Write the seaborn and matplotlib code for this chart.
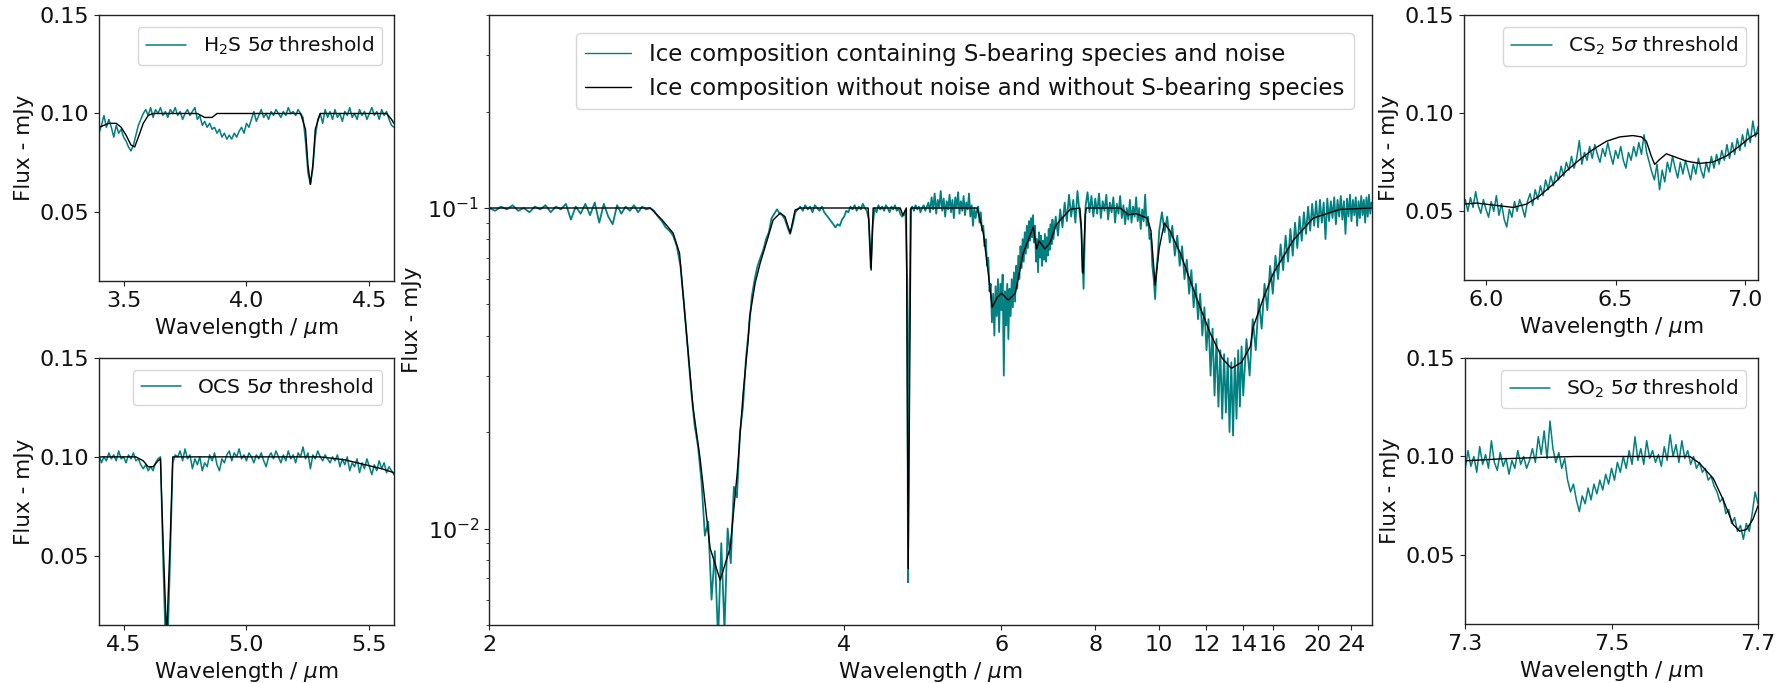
import numpy as np
import seaborn as sns
import matplotlib.pyplot as plt
from matplotlib.ticker import NullLocator

TEAL = "#008080"

# ---- main panel: model without S-bearing species (black) ----
main_model_wl = [2.00, 2.66, 2.72, 2.78, 2.815, 2.857, 2.891, 2.932, 2.991, 3.053,
                 3.116, 3.162, 3.201, 3.235, 3.245, 3.283, 3.318, 3.368, 3.411, 3.464,
                 3.50, 3.54, 3.579, 3.62, 4.234, 4.264, 4.285, 4.58, 4.61, 4.65,
                 4.672, 4.705, 5.605, 5.70, 5.78, 5.843, 5.93, 6.00, 6.118, 6.244,
                 6.39, 6.585, 6.65, 6.70, 6.82, 6.93, 7.05, 7.15, 7.38, 7.61,
                 7.64, 7.67, 7.69, 7.71, 7.74, 7.77, 8.70, 8.95, 9.20, 9.57,
                 9.70, 9.85, 10.0, 10.19, 10.4, 10.82, 11.57, 12.18, 12.8, 13.3,
                 13.9, 14.45, 14.63, 15.3, 16.04, 17.65, 19.5, 22.5, 27.0]
main_model_flux = [0.100, 0.100, 0.092, 0.0835, 0.0723, 0.0387, 0.0239, 0.0165, 0.0087, 0.0069,
                   0.0087, 0.0149, 0.0264, 0.0387, 0.0457, 0.0583, 0.0673, 0.0794, 0.0917, 0.0965,
                   0.094, 0.0835, 0.0986, 0.100, 0.100, 0.064, 0.100, 0.100, 0.095, 0.100,
                   0.0075, 0.100, 0.100, 0.0835, 0.0626, 0.049, 0.0527, 0.0542, 0.0516, 0.0542,
                   0.0723, 0.0873, 0.0745, 0.079, 0.0745, 0.078, 0.0880, 0.0917, 0.099, 0.100,
                   0.089, 0.063, 0.0626, 0.075, 0.095, 0.100, 0.100, 0.0953, 0.096, 0.093,
                   0.085, 0.0575, 0.075, 0.0898, 0.085, 0.0723, 0.0516, 0.0407, 0.034, 0.0316,
                   0.033, 0.037, 0.0425, 0.052, 0.0626, 0.0794, 0.093, 0.099, 0.100]

# ---- main panel: ice with S-bearing species and noise (teal) ----
main_noisy_wl = [
    2.00, 2.02, 2.04, 2.06, 2.08, 2.10, 2.12, 2.14, 2.16, 2.18, 2.20, 2.22, 2.24, 2.26, 2.28,
    2.30, 2.32, 2.34, 2.36, 2.38, 2.40, 2.42, 2.44, 2.46, 2.48, 2.50, 2.52, 2.54, 2.56, 2.58,
    2.60, 2.62, 2.64, 2.66, 2.68, 2.70, 2.72, 2.74, 2.76, 2.78, 2.80, 2.82, 2.84, 2.86, 2.88,
    2.90, 2.92, 2.94, 2.96, 2.98, 3.00, 3.02, 3.04, 3.06, 3.08, 3.10, 3.12, 3.14, 3.16, 3.18,
    3.20, 3.22, 3.24, 3.26, 3.28, 3.30, 3.32, 3.34, 3.36, 3.38, 3.40, 3.42, 3.44, 3.46, 3.48,
    3.50, 3.52, 3.54, 3.56, 3.58, 3.60, 3.62, 3.64, 3.66, 3.68, 3.70, 3.72, 3.74, 3.76, 3.78,
    3.80, 3.82, 3.84, 3.86, 3.88, 3.90, 3.92, 3.94, 3.96, 3.98, 4.00, 4.02, 4.04, 4.06, 4.08,
    4.10, 4.12, 4.14, 4.16, 4.18, 4.20, 4.22, 4.24, 4.26, 4.28, 4.30, 4.32, 4.34, 4.36, 4.38,
    4.40, 4.42, 4.44, 4.46, 4.48, 4.50, 4.52, 4.54, 4.56, 4.58, 4.60, 4.62, 4.64, 4.66, 4.67,
    4.68, 4.70, 4.72, 4.74, 4.76, 4.78, 4.80, 4.82, 4.84, 4.86, 4.88, 4.90,
    4.92, 4.94, 4.96, 4.98, 5.00, 5.02, 5.04, 5.06, 5.08, 5.10, 5.12, 5.14, 5.16, 5.18, 5.20,
    5.22, 5.24, 5.26, 5.28, 5.30, 5.32, 5.34, 5.36, 5.38, 5.40, 5.42, 5.44, 5.46, 5.48, 5.50,
    5.52, 5.54, 5.56, 5.58, 5.60, 5.62, 5.64, 5.66, 5.68, 5.70, 5.72, 5.74, 5.76, 5.78, 5.80,
    5.82, 5.84, 5.86, 5.88, 5.90, 5.92, 5.94, 5.96, 5.98, 6.00, 6.02, 6.04, 6.06, 6.08, 6.10,
    6.12, 6.14, 6.16, 6.18, 6.20, 6.22, 6.24, 6.26, 6.28, 6.30, 6.32, 6.34, 6.36, 6.38, 6.40,
    6.42, 6.44, 6.46, 6.48, 6.50, 6.52, 6.54, 6.56, 6.58, 6.60, 6.62, 6.64, 6.66, 6.68, 6.70,
    6.72, 6.74, 6.76, 6.78, 6.80, 6.82, 6.84, 6.86, 6.88, 6.90, 6.92, 6.94, 6.96, 6.98, 7.00,
    7.05, 7.10, 7.15, 7.20, 7.25, 7.30, 7.35, 7.40, 7.45, 7.50, 7.55, 7.60, 7.65, 7.70, 7.75,
    7.80, 7.85, 7.90, 7.95, 8.00, 8.05, 8.10, 8.15, 8.20, 8.25, 8.30, 8.35, 8.40, 8.45, 8.50,
    8.55, 8.60, 8.65, 8.70, 8.75, 8.80, 8.85, 8.90, 8.95, 9.00, 9.05, 9.10, 9.15, 9.20, 9.25,
    9.30, 9.35, 9.40, 9.45, 9.50, 9.55, 9.60, 9.65, 9.70, 9.75, 9.80, 9.85, 9.90, 9.95, 10.00,
    10.1, 10.2, 10.3, 10.4, 10.5, 10.6, 10.7, 10.8, 10.9, 11.0, 11.1, 11.2, 11.3, 11.4, 11.5,
    11.6, 11.7, 11.8, 11.9, 12.0, 12.1, 12.2, 12.3, 12.4, 12.5, 12.6, 12.7, 12.8, 12.9, 13.0,
    13.1, 13.2, 13.3, 13.4, 13.5, 13.6, 13.7, 13.8, 13.9, 14.0,
    14.2, 14.4, 14.6, 14.8, 15.0, 15.2, 15.4, 15.6, 15.8, 16.0, 16.2, 16.4, 16.6, 16.8, 17.0,
    17.2, 17.4, 17.6, 17.8, 18.0, 18.2, 18.4, 18.6, 18.8, 19.0, 19.2, 19.4, 19.6, 19.8, 20.0,
    20.2, 20.4, 20.6, 20.8, 21.0, 21.2, 21.4, 21.6, 21.8, 22.0, 22.2, 22.4, 22.6, 22.8, 23.0,
    23.2, 23.4, 23.6, 23.8, 24.0, 24.2, 24.4, 24.6, 24.8, 25.0, 25.2, 25.4, 25.6, 25.8, 26.0,
    26.2, 26.4, 26.6, 26.8, 27.0]
main_noisy_flux = [
    0.100, 0.098, 0.101, 0.099, 0.102, 0.098, 0.100, 0.097, 0.101, 0.099, 0.102, 0.097, 0.101, 0.099, 0.103,
    0.092, 0.101, 0.096, 0.103, 0.095, 0.104, 0.090, 0.103, 0.094, 0.089, 0.102, 0.096, 0.101, 0.098, 0.102,
    0.097, 0.101, 0.099, 0.100, 0.098, 0.094, 0.091, 0.087, 0.085, 0.082, 0.076, 0.066, 0.050, 0.037, 0.027,
    0.021, 0.018, 0.014, 0.0095, 0.0105, 0.0060, 0.0085, 0.0045, 0.0090, 0.0048, 0.0100, 0.0078, 0.0135, 0.0125, 0.0200,
    0.0240, 0.0340, 0.0420, 0.0530, 0.0600, 0.0660, 0.0700, 0.0740, 0.0800, 0.0840, 0.0930, 0.0960, 0.0990, 0.0960, 0.0950,
    0.0920, 0.0870, 0.0830, 0.0890, 0.0970, 0.0990, 0.101, 0.098, 0.102, 0.099, 0.101, 0.097, 0.102, 0.100, 0.098,
    0.101, 0.097, 0.095, 0.093, 0.091, 0.089, 0.087, 0.089, 0.088, 0.092, 0.094, 0.098, 0.097, 0.101, 0.099,
    0.102, 0.098, 0.101, 0.099, 0.103, 0.100, 0.098, 0.092, 0.065, 0.088, 0.100, 0.097, 0.102, 0.099, 0.101,
    0.098, 0.102, 0.100, 0.097, 0.101, 0.099, 0.102, 0.098, 0.100, 0.096, 0.094, 0.095, 0.098, 0.060, 0.0068,
    0.030, 0.099, 0.101, 0.098, 0.102, 0.099, 0.101, 0.097, 0.100, 0.102, 0.098, 0.101,
    0.104, 0.097, 0.108, 0.099, 0.111, 0.096, 0.106, 0.100, 0.113, 0.098, 0.107, 0.094, 0.105, 0.099, 0.110,
    0.097, 0.106, 0.093, 0.108, 0.100, 0.112, 0.096, 0.105, 0.098, 0.109, 0.095, 0.104, 0.099, 0.111, 0.094,
    0.102, 0.088, 0.100, 0.093, 0.098, 0.101, 0.090, 0.097, 0.085, 0.088, 0.076, 0.080, 0.066, 0.070, 0.055,
    0.058, 0.044, 0.054, 0.040, 0.057, 0.046, 0.060, 0.041, 0.058, 0.048, 0.062, 0.030, 0.055, 0.043, 0.058,
    0.039, 0.056, 0.046, 0.060, 0.049, 0.063, 0.051, 0.066, 0.056, 0.071, 0.060, 0.076, 0.065, 0.080, 0.068,
    0.084, 0.072, 0.088, 0.075, 0.091, 0.079, 0.093, 0.081, 0.095, 0.078, 0.088, 0.068, 0.080, 0.063, 0.084,
    0.070, 0.082, 0.066, 0.079, 0.069, 0.083, 0.068, 0.081, 0.071, 0.086, 0.074, 0.089, 0.077, 0.092, 0.080,
    0.094, 0.082, 0.099, 0.087, 0.104, 0.091, 0.110, 0.094, 0.106, 0.090, 0.113, 0.097, 0.085, 0.056, 0.101,
    0.112, 0.097, 0.109, 0.094, 0.107, 0.096, 0.111, 0.093, 0.105, 0.098, 0.110, 0.092, 0.104, 0.097, 0.108,
    0.090, 0.103, 0.096, 0.109, 0.093, 0.102, 0.089, 0.100, 0.092, 0.106, 0.090, 0.101, 0.094, 0.108, 0.091,
    0.100, 0.086, 0.099, 0.091, 0.110, 0.088, 0.094, 0.080, 0.083, 0.066, 0.060, 0.052, 0.064, 0.072, 0.085,
    0.097, 0.084, 0.094, 0.078, 0.088, 0.071, 0.082, 0.066, 0.076, 0.060, 0.069, 0.054, 0.064, 0.049, 0.058,
    0.045, 0.054, 0.040, 0.049, 0.036, 0.045, 0.030, 0.042, 0.026, 0.039, 0.024, 0.036, 0.022, 0.035, 0.023,
    0.034, 0.020, 0.033, 0.0195, 0.034, 0.022, 0.036, 0.024, 0.037, 0.026,
    0.039, 0.030, 0.045, 0.036, 0.052, 0.042, 0.058, 0.048, 0.066, 0.054, 0.071, 0.060, 0.077, 0.064, 0.082,
    0.068, 0.086, 0.071, 0.090, 0.075, 0.094, 0.079, 0.097, 0.083, 0.101, 0.085, 0.103, 0.088, 0.105, 0.087,
    0.106, 0.090, 0.104, 0.080, 0.107, 0.091, 0.105, 0.093, 0.108, 0.089, 0.106, 0.094, 0.109, 0.092, 0.105,
    0.083, 0.107, 0.094, 0.110, 0.091, 0.106, 0.095, 0.108, 0.088, 0.105, 0.093, 0.109, 0.095, 0.106, 0.090,
    0.108, 0.094, 0.110, 0.096, 0.104]

main_ticks = [2, 4, 6, 8, 10, 12, 14, 16, 20, 24]

# ---- H2S panel ----
h2s_wl = [3.40, 3.41, 3.42, 3.43, 3.44, 3.45, 3.46, 3.47, 3.48, 3.49, 3.50, 3.51, 3.52, 3.53, 3.54,
          3.55, 3.56, 3.57, 3.58, 3.59, 3.60, 3.61, 3.62, 3.63, 3.64, 3.65, 3.66, 3.67, 3.68, 3.69,
          3.70, 3.71, 3.72, 3.73, 3.74, 3.75, 3.76, 3.77, 3.78, 3.79, 3.80, 3.81, 3.82, 3.83, 3.84,
          3.85, 3.86, 3.87, 3.88, 3.89, 3.90, 3.91, 3.92, 3.93, 3.94, 3.95, 3.96, 3.97, 3.98, 3.99,
          4.00, 4.01, 4.02, 4.03, 4.04, 4.05, 4.06, 4.07, 4.08, 4.09, 4.10, 4.11, 4.12, 4.13, 4.14,
          4.15, 4.16, 4.17, 4.18, 4.19, 4.20, 4.21, 4.22, 4.23, 4.24, 4.25, 4.26, 4.27, 4.28, 4.29,
          4.30, 4.31, 4.32, 4.33, 4.34, 4.35, 4.36, 4.37, 4.38, 4.39, 4.40, 4.41, 4.42, 4.43, 4.44,
          4.45, 4.46, 4.47, 4.48, 4.49, 4.50, 4.51, 4.52, 4.53, 4.54, 4.55, 4.56, 4.57, 4.58, 4.59, 4.60]
h2s_flux = [0.090, 0.094, 0.099, 0.093, 0.097, 0.093, 0.088, 0.094, 0.090, 0.092, 0.088, 0.086, 0.083, 0.081, 0.084,
            0.089, 0.094, 0.097, 0.100, 0.102, 0.099, 0.103, 0.098, 0.102, 0.100, 0.103, 0.099, 0.101, 0.098, 0.102,
            0.100, 0.103, 0.099, 0.101, 0.097, 0.100, 0.102, 0.099, 0.101, 0.103, 0.097, 0.099, 0.094, 0.096, 0.093,
            0.095, 0.092, 0.093, 0.090, 0.092, 0.088, 0.090, 0.087, 0.089, 0.087, 0.090, 0.088, 0.091, 0.093, 0.090,
            0.095, 0.093, 0.097, 0.101, 0.096, 0.099, 0.102, 0.098, 0.100, 0.097, 0.101, 0.099, 0.102, 0.100, 0.098,
            0.101, 0.099, 0.103, 0.100, 0.101, 0.099, 0.102, 0.100, 0.098, 0.086, 0.070, 0.064, 0.072, 0.088, 0.097,
            0.100, 0.095, 0.102, 0.098, 0.101, 0.097, 0.102, 0.098, 0.100, 0.096, 0.101, 0.099, 0.103, 0.098, 0.100,
            0.097, 0.102, 0.099, 0.101, 0.097, 0.100, 0.103, 0.099, 0.101, 0.097, 0.102, 0.099, 0.101, 0.097, 0.094, 0.093]
h2s_model_wl = [3.40, 3.44, 3.47, 3.49, 3.51, 3.53, 3.545, 3.56, 3.58, 3.60, 3.62, 3.80, 3.83, 3.86, 3.88,
                4.22, 4.24, 4.25, 4.26, 4.27, 4.28, 4.30, 4.57, 4.59, 4.60]
h2s_model_flux = [0.093, 0.095, 0.095, 0.093, 0.089, 0.084, 0.083, 0.088, 0.095, 0.099, 0.100, 0.100, 0.098, 0.098, 0.100,
                  0.100, 0.092, 0.074, 0.064, 0.074, 0.092, 0.100, 0.100, 0.097, 0.095]

# ---- OCS panel ----
ocs_wl = [4.40, 4.41, 4.42, 4.43, 4.44, 4.45, 4.46, 4.47, 4.48, 4.49, 4.50, 4.51, 4.52, 4.53, 4.54,
          4.55, 4.56, 4.57, 4.58, 4.59, 4.60, 4.61, 4.62, 4.63, 4.64, 4.65, 4.66, 4.67, 4.68, 4.69,
          4.70, 4.71, 4.72, 4.73, 4.74, 4.75, 4.76, 4.77, 4.78, 4.79, 4.80, 4.81, 4.82, 4.83, 4.84,
          4.85, 4.86, 4.87, 4.88, 4.89, 4.90, 4.91, 4.92, 4.93, 4.94, 4.95, 4.96, 4.97, 4.98, 4.99,
          5.00, 5.01, 5.02, 5.03, 5.04, 5.05, 5.06, 5.07, 5.08, 5.09, 5.10, 5.11, 5.12, 5.13, 5.14,
          5.15, 5.16, 5.17, 5.18, 5.19, 5.20, 5.21, 5.22, 5.23, 5.24, 5.25, 5.26, 5.27, 5.28, 5.29,
          5.30, 5.31, 5.32, 5.33, 5.34, 5.35, 5.36, 5.37, 5.38, 5.39, 5.40, 5.41, 5.42, 5.43, 5.44,
          5.45, 5.46, 5.47, 5.48, 5.49, 5.50, 5.51, 5.52, 5.53, 5.54, 5.55, 5.56, 5.57, 5.58, 5.59, 5.60]
ocs_flux = [0.101, 0.097, 0.100, 0.098, 0.102, 0.099, 0.101, 0.098, 0.103, 0.099, 0.100, 0.097, 0.101, 0.099, 0.102,
            0.098, 0.099, 0.096, 0.094, 0.096, 0.093, 0.095, 0.093, 0.097, 0.099, 0.100, 0.050, 0.008, 0.008, 0.050,
            0.097, 0.101, 0.100, 0.103, 0.098, 0.104, 0.099, 0.101, 0.094, 0.099, 0.096, 0.100, 0.093, 0.097, 0.095,
            0.101, 0.098, 0.102, 0.096, 0.093, 0.099, 0.097, 0.101, 0.103, 0.098, 0.102, 0.100, 0.104, 0.099, 0.101,
            0.098, 0.102, 0.100, 0.097, 0.101, 0.099, 0.102, 0.098, 0.095, 0.100, 0.102, 0.099, 0.103, 0.100, 0.097,
            0.101, 0.098, 0.103, 0.099, 0.101, 0.097, 0.102, 0.100, 0.105, 0.099, 0.102, 0.094, 0.101, 0.099, 0.103,
            0.100, 0.098, 0.101, 0.099, 0.097, 0.100, 0.098, 0.101, 0.095, 0.099, 0.096, 0.100, 0.093, 0.097, 0.095,
            0.099, 0.092, 0.097, 0.094, 0.099, 0.095, 0.091, 0.096, 0.093, 0.098, 0.094, 0.097, 0.092, 0.095, 0.093, 0.091]
ocs_model_wl = [4.40, 4.55, 4.58, 4.60, 4.62, 4.64, 4.65, 4.66, 4.675, 4.69, 4.70,
                5.30, 5.40, 5.45, 5.50, 5.55, 5.60]
ocs_model_flux = [0.100, 0.100, 0.098, 0.095, 0.095, 0.098, 0.099, 0.060, 0.008, 0.060, 0.100,
                  0.100, 0.0985, 0.097, 0.0955, 0.094, 0.092]

# ---- CS2 panel ----
cs2_wl = [5.92, 5.93, 5.94, 5.95, 5.96, 5.97, 5.98, 5.99, 6.00, 6.01, 6.02, 6.03, 6.04, 6.05, 6.06,
          6.07, 6.08, 6.09, 6.10, 6.11, 6.12, 6.13, 6.14, 6.15, 6.16, 6.17, 6.18, 6.19, 6.20, 6.21,
          6.22, 6.23, 6.24, 6.25, 6.26, 6.27, 6.28, 6.29, 6.30, 6.31, 6.32, 6.33, 6.34, 6.35, 6.36,
          6.37, 6.38, 6.39, 6.40, 6.41, 6.42, 6.43, 6.44, 6.45, 6.46, 6.47, 6.48, 6.49, 6.50, 6.51,
          6.52, 6.53, 6.54, 6.55, 6.56, 6.57, 6.58, 6.59, 6.60, 6.61, 6.62, 6.63, 6.64, 6.65, 6.66,
          6.67, 6.68, 6.69, 6.70, 6.71, 6.72, 6.73, 6.74, 6.75, 6.76, 6.77, 6.78, 6.79, 6.80, 6.81,
          6.82, 6.83, 6.84, 6.85, 6.86, 6.87, 6.88, 6.89, 6.90, 6.91, 6.92, 6.93, 6.94, 6.95, 6.96,
          6.97, 6.98, 6.99, 7.00, 7.01, 7.02, 7.03, 7.04, 7.05]
cs2_flux = [0.056, 0.050, 0.057, 0.052, 0.060, 0.053, 0.049, 0.056, 0.051, 0.047, 0.055, 0.050, 0.058, 0.048, 0.054,
            0.046, 0.042, 0.051, 0.047, 0.055, 0.050, 0.056, 0.052, 0.047, 0.055, 0.059, 0.053, 0.061, 0.056, 0.063,
            0.058, 0.066, 0.061, 0.068, 0.063, 0.070, 0.066, 0.073, 0.068, 0.075, 0.071, 0.078, 0.072, 0.077, 0.086,
            0.074, 0.080, 0.076, 0.083, 0.077, 0.084, 0.079, 0.075, 0.082, 0.078, 0.085, 0.079, 0.074, 0.081, 0.077,
            0.083, 0.076, 0.072, 0.080, 0.076, 0.083, 0.078, 0.085, 0.079, 0.089, 0.080, 0.075, 0.070, 0.066, 0.074,
            0.061, 0.071, 0.065, 0.075, 0.070, 0.078, 0.072, 0.067, 0.075, 0.069, 0.076, 0.071, 0.066, 0.074, 0.069,
            0.077, 0.071, 0.067, 0.075, 0.070, 0.078, 0.072, 0.079, 0.074, 0.081, 0.076, 0.084, 0.077, 0.085, 0.079,
            0.087, 0.081, 0.089, 0.083, 0.092, 0.085, 0.096, 0.088, 0.093]
cs2_model_wl = [5.915, 5.964, 6.015, 6.105, 6.157, 6.208, 6.259, 6.31, 6.362, 6.413, 6.465, 6.516, 6.567,
                6.60, 6.619, 6.638, 6.651, 6.67, 6.696, 6.721, 6.773, 6.824, 6.876, 6.927, 6.978, 7.017, 7.05]
cs2_model_flux = [0.0537, 0.0542, 0.0534, 0.052, 0.0537, 0.058, 0.0638, 0.0705, 0.0764, 0.0815, 0.0857, 0.0879, 0.0886,
                  0.0879, 0.0857, 0.0781, 0.0739, 0.0764, 0.0793, 0.0781, 0.0756, 0.0744, 0.0751, 0.0781, 0.0832, 0.0874, 0.0899]

# ---- SO2 panel ----
so2_wl = [7.300, 7.304, 7.308, 7.312, 7.316, 7.320, 7.324, 7.328, 7.332, 7.336, 7.340, 7.344, 7.348, 7.352, 7.356,
          7.360, 7.364, 7.368, 7.372, 7.376, 7.380, 7.384, 7.388, 7.392, 7.396, 7.400, 7.404, 7.408, 7.412, 7.416,
          7.420, 7.424, 7.428, 7.432, 7.436, 7.440, 7.444, 7.448, 7.452, 7.456, 7.460, 7.464, 7.468, 7.472, 7.476,
          7.480, 7.484, 7.488, 7.492, 7.496, 7.500, 7.504, 7.508, 7.512, 7.516, 7.520, 7.524, 7.528, 7.532, 7.536,
          7.540, 7.544, 7.548, 7.552, 7.556, 7.560, 7.564, 7.568, 7.572, 7.576, 7.580, 7.584, 7.588, 7.592, 7.596,
          7.600, 7.604, 7.608, 7.612, 7.616, 7.620, 7.624, 7.628, 7.632, 7.636, 7.640, 7.644, 7.648, 7.652, 7.656,
          7.660, 7.664, 7.668, 7.672, 7.676, 7.680, 7.684, 7.688, 7.692, 7.696, 7.700]
so2_flux = [0.093, 0.103, 0.095, 0.100, 0.092, 0.105, 0.096, 0.101, 0.094, 0.108, 0.097, 0.093, 0.102, 0.095, 0.099,
            0.091, 0.098, 0.094, 0.103, 0.096, 0.100, 0.094, 0.098, 0.104, 0.097, 0.110, 0.101, 0.113, 0.099, 0.118,
            0.104, 0.097, 0.102, 0.094, 0.099, 0.088, 0.082, 0.086, 0.078, 0.072, 0.080, 0.076, 0.084, 0.078, 0.086,
            0.081, 0.088, 0.083, 0.091, 0.086, 0.094, 0.088, 0.097, 0.092, 0.100, 0.094, 0.103, 0.096, 0.110, 0.098,
            0.104, 0.096, 0.108, 0.099, 0.103, 0.097, 0.101, 0.095, 0.105, 0.098, 0.111, 0.100, 0.106, 0.097, 0.108,
            0.099, 0.103, 0.096, 0.100, 0.094, 0.097, 0.092, 0.094, 0.088, 0.090, 0.085, 0.082, 0.077, 0.079, 0.071,
            0.073, 0.066, 0.069, 0.062, 0.065, 0.058, 0.066, 0.062, 0.071, 0.082, 0.076]
so2_model_wl = [7.30, 7.35, 7.40, 7.45, 7.607, 7.62, 7.639, 7.652, 7.666, 7.675, 7.684, 7.693, 7.70]
so2_model_flux = [0.0978, 0.0988, 0.0995, 0.100, 0.100, 0.0966, 0.0888, 0.0784, 0.0655, 0.0621, 0.0629, 0.0681, 0.075]

insets = [
    # (axes rect, wl, flux, model wl, model flux, xlim, xticks, tick labels, legend label)
    ([0.0556, 0.5886, 0.1656, 0.3895], h2s_wl, h2s_flux, h2s_model_wl, h2s_model_flux,
     (3.4, 4.6), [3.5, 4.0, 4.5], ["3.5", "4.0", "4.5"], r"H$_2$S 5$\sigma$ threshold"),
    ([0.0556, 0.0849, 0.1656, 0.3910], ocs_wl, ocs_flux, ocs_model_wl, ocs_model_flux,
     (4.4, 5.6), [4.5, 5.0, 5.5], ["4.5", "5.0", "5.5"], r"OCS 5$\sigma$ threshold"),
    ([0.8220, 0.5900, 0.1651, 0.3880], cs2_wl, cs2_flux, cs2_model_wl, cs2_model_flux,
     (5.915, 7.05), [6.0, 6.5, 7.0], ["6.0", "6.5", "7.0"], r"CS$_2$ 5$\sigma$ threshold"),
    ([0.8226, 0.0864, 0.1645, 0.3895], so2_wl, so2_flux, so2_model_wl, so2_model_flux,
     (7.3, 7.7), [7.3, 7.5, 7.7], ["7.3", "7.5", "7.7"], r"SO$_2$ 5$\sigma$ threshold"),
]

sns.set_style("ticks")
plt.rcParams.update({
    "font.family": ["DejaVu Sans"],
    "axes.edgecolor": "#222222",
    "axes.linewidth": 1.0,
    "xtick.color": "#222222",
    "ytick.color": "#222222",
    "xtick.labelcolor": "#111111",
    "ytick.labelcolor": "#111111",
    "xtick.major.size": 3.5,
    "ytick.major.size": 3.5,
    "ytick.minor.size": 2.0,
    "xtick.labelsize": 16,
    "ytick.labelsize": 16,
    "axes.labelsize": 15.5,
    "axes.labelcolor": "#111111",
    "text.color": "#111111",
})


def fwd(x):
    x = np.asarray(x, dtype=float)
    return -1.0 / np.sqrt(np.clip(x, 1e-6, None))


def inv(y):
    y = np.asarray(y, dtype=float)
    return 1.0 / np.clip(y, None, -1e-6) ** 2


fig = plt.figure(figsize=(17.81, 6.83), dpi=100)

# main spectrum
ax = fig.add_axes([0.2746, 0.0849, 0.4958, 0.8931])
sns.lineplot(x=main_noisy_wl, y=main_noisy_flux, ax=ax, color=TEAL, lw=1.3, estimator=None, sort=False,
             label="Ice composition containing S-bearing species and noise")
sns.lineplot(x=main_model_wl, y=main_model_flux, ax=ax, color="black", lw=1.0, estimator=None, sort=False,
             label="Ice composition without noise and without S-bearing species")
ax.set_yscale("log")
ax.set_xscale("function", functions=(fwd, inv))
ax.set_xlim(2, 27.1)
ax.set_ylim(0.005, 0.4)
ax.set_xticks(main_ticks)
ax.set_xticklabels([str(t) for t in main_ticks])
ax.xaxis.set_minor_locator(NullLocator())
ax.set_xlabel(r"Wavelength / $\mu$m")
ax.set_ylabel("Flux - mJy")
leg = ax.legend(loc="upper right", fontsize=16.5, handlelength=2.0, borderaxespad=0.8)
for h in leg.get_lines():
    h.set_linewidth(1.0)

for rect, wl, fl, mwl, mfl, xlim, ticks, labels, name in insets:
    a = fig.add_axes(rect)
    sns.lineplot(x=wl, y=fl, ax=a, color=TEAL, lw=1.1, estimator=None, sort=False, label=name)
    sns.lineplot(x=mwl, y=mfl, ax=a, color="black", lw=1.0, estimator=None, sort=False)
    a.set_xlim(*xlim)
    a.set_ylim(0.015, 0.15)
    a.set_xticks(ticks)
    a.set_xticklabels(labels)
    a.set_yticks([0.05, 0.10, 0.15])
    a.set_yticklabels(["0.05", "0.10", "0.15"])
    a.set_xlabel(r"Wavelength / $\mu$m")
    a.set_ylabel("Flux - mJy")
    a.legend(loc="upper right", fontsize=14.5, handlelength=2.0, borderaxespad=0.6)

fig.savefig("out.png", dpi=100)
